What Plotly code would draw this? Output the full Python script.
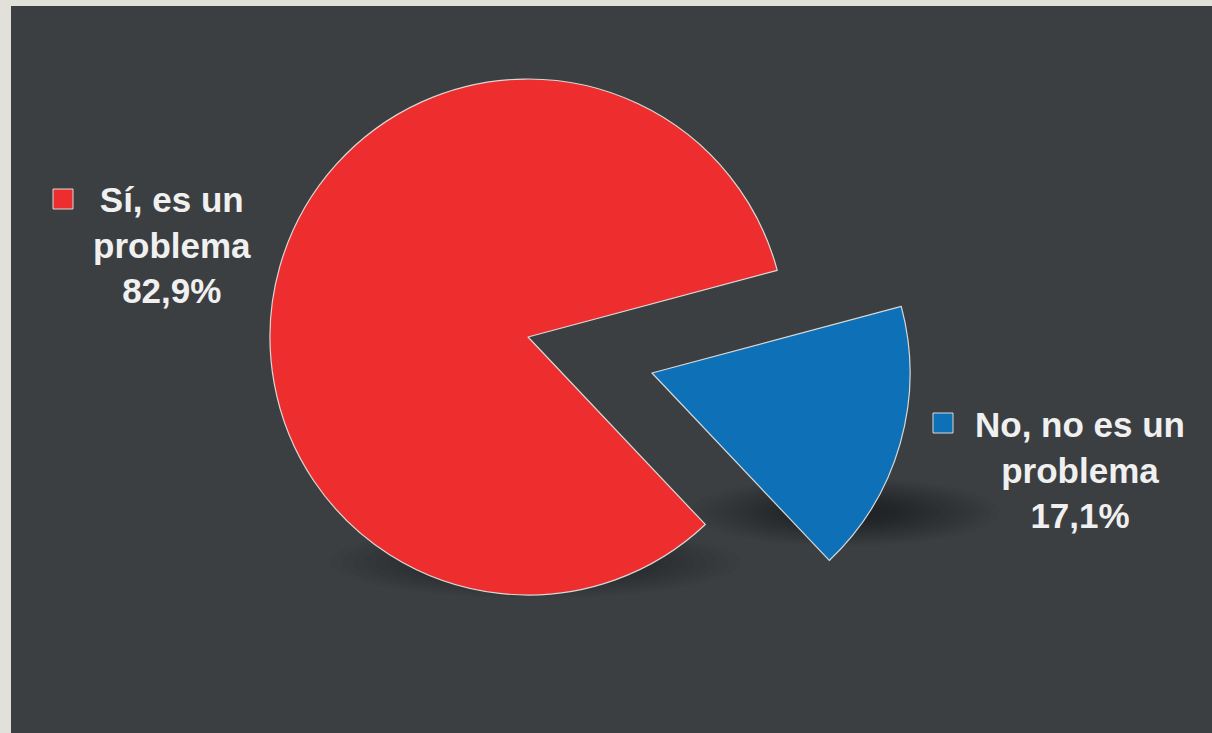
import plotly.graph_objects as go

# ---- data ----
categories = ["Sí, es un problema", "No, no es un problema"]
label_lines = ["Sí, es un<br>problema", "No, no es un<br>problema"]
values = [82.9, 17.1]
colors = ["#ee2e2e", "#0e71b8"]

W, H = 1212, 733
BG_OUT = "#e1e1da"
BG_IN = "#3c3f42"
EDGE = "#d8d8d8"


def px(x):
    return x / W


def py(y):
    return 1 - y / H


fig = go.Figure()

# main pie (red slice visible), second pie (blue slice, exploded)
R = 258
centers = [(528, 337), (652, 373)]
for k, (cx, cy) in enumerate(centers):
    mcol = [c if i == k else "rgba(0,0,0,0)" for i, c in enumerate(colors)]
    lcol = [EDGE if i == k else "rgba(0,0,0,0)" for i in range(len(colors))]
    fig.add_trace(go.Pie(
        labels=categories,
        values=values,
        sort=False,
        direction="clockwise",
        rotation=136.6,
        textinfo="none",
        hoverinfo="label+percent",
        marker=dict(colors=mcol, line=dict(color=lcol, width=1.2)),
        domain=dict(x=[px(cx - R), px(cx + R)], y=[py(cy + R), py(cy - R)]),
        showlegend=False,
    ))

shapes = [
    dict(type="rect", xref="paper", yref="paper", x0=px(11), x1=1, y0=0, y1=py(6),
         fillcolor=BG_IN, line=dict(width=0), layer="below"),
]

# soft shadows beneath the slices
def shadow(cx, cy, rx, ry, steps=14, op=0.026):
    out = []
    for s in range(steps):
        f = 1 - s * 0.055
        out.append(dict(type="circle", xref="paper", yref="paper",
                        x0=px(cx - rx * f), x1=px(cx + rx * f),
                        y0=py(cy + ry * f), y1=py(cy - ry * f),
                        fillcolor="black", opacity=op, line=dict(width=0), layer="below"))
    return out

shapes += shadow(535, 562, 205, 36)
shapes += shadow(845, 512, 155, 34)

# legend-like squares
sq = [(53, 189), (933, 413)]
for (x0, y0), c in zip(sq, colors):
    shapes.append(dict(type="rect", xref="paper", yref="paper",
                       x0=px(x0), x1=px(x0 + 20), y0=py(y0 + 20), y1=py(y0),
                       fillcolor=c, line=dict(color=EDGE, width=1), layer="above"))

annotations = []
label_pos = [(172, 245), (1080, 470)]
for (x, y), lab, v in zip(label_pos, label_lines, values):
    txt = f"{lab}<br>{v:.1f}%".replace(".", ",")
    annotations.append(dict(
        x=px(x), y=py(y), xref="paper", yref="paper", text=txt, showarrow=False,
        align="center", xanchor="center", yanchor="middle",
        font=dict(family="Liberation Sans, Arial, sans-serif", size=35, color="#f0f0f0", weight=700),
    ))

fig.update_layout(
    width=W, height=H,
    margin=dict(l=0, r=0, t=0, b=0),
    paper_bgcolor=BG_OUT,
    plot_bgcolor=BG_IN,
    shapes=shapes,
    annotations=annotations,
)

fig.write_html(
    "out.html",
    config={"displayModeBar": False},
    post_script="document.body.style.margin='0';document.body.style.overflow='hidden';",
)
